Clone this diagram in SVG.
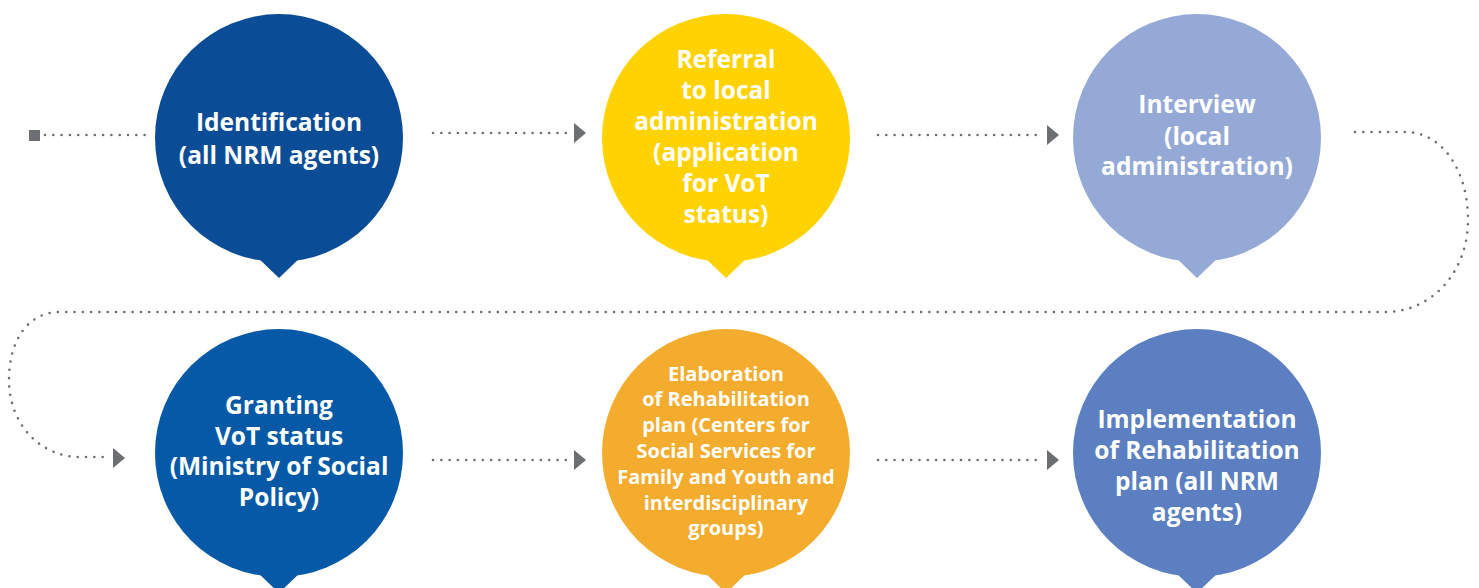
<svg xmlns="http://www.w3.org/2000/svg" width="1479" height="588" viewBox="0 0 1479 588">
<style>
.t{font-family:"Open Sans","Liberation Sans",sans-serif;font-weight:bold;fill:#fff;text-anchor:middle;font-size:24.5px}
.s{font-size:20px}
.c{fill:none;stroke:#6d6e71;stroke-width:2.6;stroke-linecap:round;stroke-dasharray:0 8.3}
.h{fill:#6d6e71}
</style>
<rect width="1479" height="588" fill="#fff"/>
<g id="connectors">
<rect class="h" x="29" y="130" width="11" height="11"/>
<path class="c" d="M45,135 H148"/>
<path class="c" d="M433,133 H566"/>
<polygon class="h" points="574,123 586,133 574,143"/>
<path class="c" d="M878,135 H1040"/>
<polygon class="h" points="1047,125 1059,135 1047,145"/>
<path class="c" d="M1355,132 H1405 C1442,132 1468,170 1468,220 C1468,272 1432,312 1385,312 H60 C28,312 9,340 9,380 C9,424 40,457 80,457 H108"/>
<polygon class="h" points="113,448 125,458 113,468"/>
<path class="c" d="M433,460 H566"/>
<polygon class="h" points="574,450 586,460 574,470"/>
<path class="c" d="M878,460 H1040"/>
<polygon class="h" points="1047,450 1059,460 1047,470"/>
</g>
<g id="n1" fill="#0b4c97">
<circle cx="279" cy="138" r="124"/>
<polygon points="255,255 279,278 303,255"/>
<text class="t" x="279" y="131">Identification</text>
<text class="t" x="279" y="164">(all NRM agents)</text>
</g>
<g id="n2" fill="#ffd200">
<circle cx="726" cy="138" r="124"/>
<polygon points="702,255 726,278 750,255"/>
<text class="t" x="726" y="68">Referral</text>
<text class="t" x="726" y="99">to local</text>
<text class="t" x="726" y="130">administration</text>
<text class="t" x="726" y="161">(application</text>
<text class="t" x="726" y="192">for VoT</text>
<text class="t" x="726" y="223">status)</text>
</g>
<g id="n3" fill="#95a9d6">
<circle cx="1197" cy="138" r="124"/>
<polygon points="1173,255 1197,278 1221,255"/>
<text class="t" x="1197" y="113">Interview</text>
<text class="t" x="1197" y="145">(local</text>
<text class="t" x="1197" y="175">administration)</text>
</g>
<g id="n4" fill="#0559a6">
<circle cx="279" cy="453" r="124"/>
<polygon points="255,570 279,593 303,570"/>
<text class="t" x="279" y="414">Granting</text>
<text class="t" x="279" y="445">VoT status</text>
<text class="t" x="279" y="475">(Ministry of Social</text>
<text class="t" x="279" y="506">Policy)</text>
</g>
<g id="n5" fill="#f4ac2e">
<circle cx="726" cy="453" r="124"/>
<polygon points="702,570 726,593 750,570"/>
<text class="t s" x="726" y="381">Elaboration</text>
<text class="t s" x="726" y="406">of Rehabilitation</text>
<text class="t s" x="726" y="432">plan (Centers for</text>
<text class="t s" x="726" y="458">Social Services for</text>
<text class="t s" x="726" y="484">Family and Youth and</text>
<text class="t s" x="726" y="510">interdisciplinary</text>
<text class="t s" x="726" y="535">groups)</text>
</g>
<g id="n6" fill="#5b7fc0">
<circle cx="1197" cy="453" r="124"/>
<polygon points="1173,570 1197,593 1221,570"/>
<text class="t" x="1197" y="428">Implementation</text>
<text class="t" x="1197" y="459">of Rehabilitation</text>
<text class="t" x="1197" y="490">plan (all NRM</text>
<text class="t" x="1197" y="521">agents)</text>
</g>
</svg>
